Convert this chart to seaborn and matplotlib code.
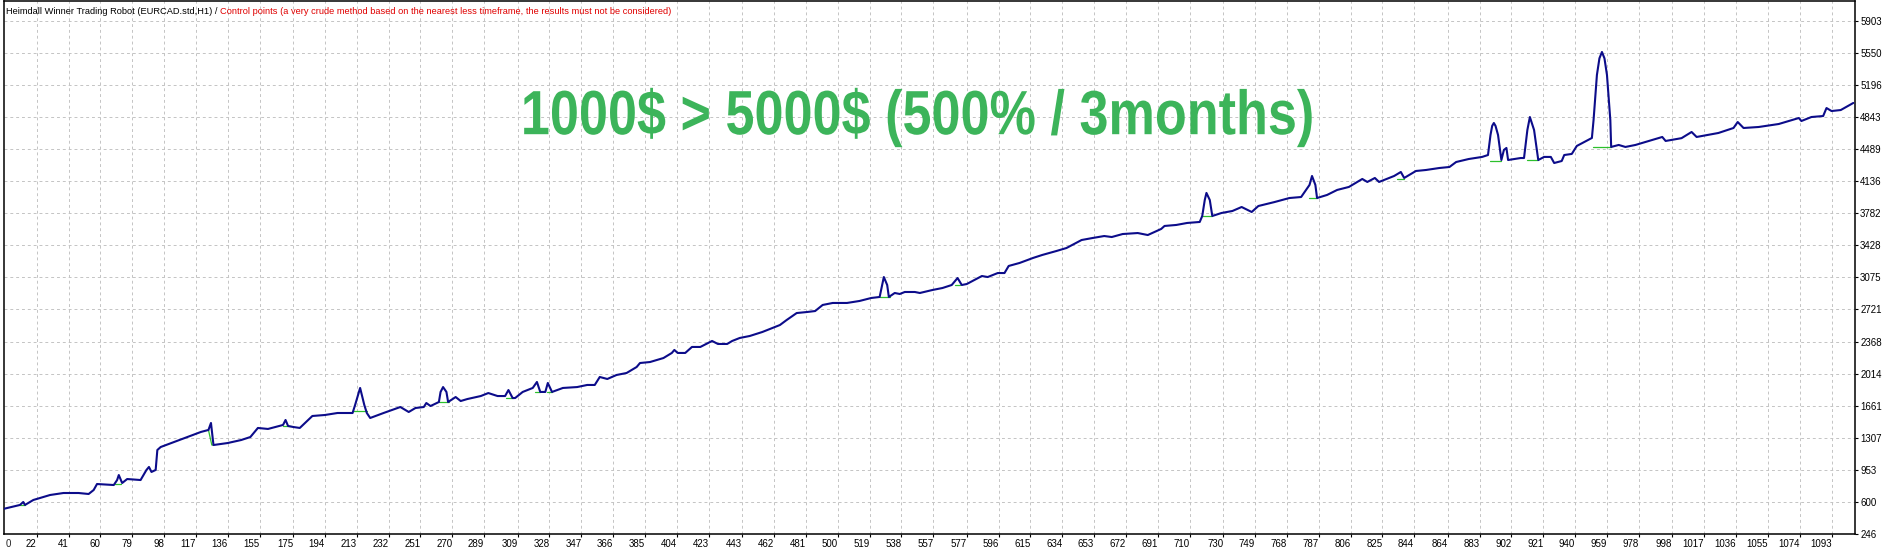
import numpy as np
import pandas as pd
import matplotlib
matplotlib.use("Agg")
import matplotlib.pyplot as plt
import matplotlib.patheffects as pe
from matplotlib.transforms import Affine2D
import seaborn as sns

# balance curve (trade number, account value)
trades = [2, 12, 14, 15, 20, 26, 30, 38, 47, 53, 56, 58, 68, 70, 71, 73, 76, 84, 87.5, 89,
          90.5, 93, 94, 96, 104, 112, 120, 124.5, 126, 127.5, 136, 144, 149.5, 154, 160, 169, 170.5, 172, 175, 179,
          186.5, 194, 201.5, 210.5, 212, 215, 217.5, 219, 221, 229, 239, 244, 248, 253, 254.5, 257, 262, 263, 264.5, 266.5,
          267.5, 272, 275, 279, 287, 291.5, 297, 301.5, 303.5, 306, 307.5, 312, 318, 320.5, 322.5, 325.5, 327, 329.5, 336, 344.5,
          350.5, 355, 358, 362.5, 368, 374, 380, 382, 388, 396, 401, 402.5, 404.5, 409, 413, 418, 425, 428.5,
          434, 437, 441.5, 447.5, 455, 459.5, 465.5, 469.5, 475.5, 481.5, 486.5, 491, 497, 505.5, 513, 520,
          525, 526.5, 527.5, 529.5, 530.5, 534, 537, 540, 546, 549, 556.5, 562.5, 568, 571.5, 574, 577, 586, 589.5, 595.5, 599.5,
          602, 608.5, 616.5, 622, 630.5, 636.5, 645.5, 652, 659, 663.5, 670, 679, 685, 693, 695, 702, 708.5, 716, 717.5, 719,
          720, 722, 723.5, 729, 735.5, 741, 747, 751, 760.5, 769.5, 776.5, 781.5, 783, 785, 786, 792, 798, 805, 813, 816,
          820.5, 823, 832, 836, 838, 845, 851, 859, 865, 869, 876.5, 884.5, 888, 889.5, 890.5, 891.5, 892.5, 894, 896, 897.5,
          899, 900, 907.5, 909.5, 911.5, 913, 915.5, 918, 921.5, 925.5, 927.5, 932, 933.5, 938, 941, 950, 951, 953, 954.5, 956,
          957.5, 959, 961, 961.5, 966, 970, 976, 986, 992, 994, 1003.5, 1009.5, 1012.5, 1025.5, 1034.5, 1037, 1040.5, 1049.5, 1061.5, 1073.5,
          1075, 1081, 1088, 1090, 1093, 1098.5, 1106]
balance = [522, 566, 599, 566, 621, 654, 676, 698, 698, 687, 731, 797, 786, 841, 896, 808, 852, 841, 952, 985,
           930, 952, 1172, 1205, 1260, 1315, 1371, 1393, 1470, 1227, 1249, 1282, 1315, 1415, 1404, 1448, 1503, 1437, 1426, 1415,
           1547, 1558, 1580, 1580, 1668, 1856, 1668, 1580, 1525, 1580, 1646, 1591, 1635, 1646, 1690, 1657, 1701, 1812, 1866, 1812,
           1701, 1756, 1712, 1734, 1767, 1800, 1767, 1767, 1833, 1745, 1745, 1812, 1856, 1922, 1812, 1812, 1911, 1812, 1856, 1866,
           1889, 1889, 1977, 1955, 1999, 2021, 2087, 2131, 2142, 2186, 2242, 2275, 2242, 2242, 2308, 2308, 2374, 2341,
           2341, 2374, 2407, 2429, 2473, 2506, 2550, 2605, 2682, 2693, 2704, 2771, 2793, 2793, 2815, 2848,
           2859, 2991, 3079, 2991, 2859, 2903, 2892, 2914, 2914, 2903, 2936, 2958, 2991, 3068, 2991, 3002, 3090, 3079, 3123, 3123,
           3201, 3234, 3289, 3322, 3366, 3399, 3487, 3509, 3531, 3520, 3553, 3564, 3542, 3609, 3642, 3653, 3675, 3686, 3752, 3928,
           4006, 3928, 3752, 3785, 3807, 3851, 3796, 3862, 3905, 3950, 3961, 4094, 4193, 4094, 3950, 3984, 4039, 4072, 4160, 4127,
           4171, 4127, 4193, 4237, 4171, 4248, 4259, 4281, 4292, 4347, 4380, 4403, 4424, 4645, 4745, 4777, 4745, 4645, 4369, 4480,
           4502, 4369, 4391, 4391, 4700, 4843, 4700, 4369, 4403, 4403, 4336, 4358, 4424, 4436, 4524, 4612, 4810, 5307, 5490, 5560,
           5490, 5307, 4810, 4513, 4535, 4513, 4535, 4590, 4623, 4579, 4610, 4678, 4623, 4667, 4722, 4788, 4722, 4733, 4766, 4832,
           4799, 4843, 4854, 4942, 4909, 4920, 4998]

# flat equity stretches under the spikes
eq_trades = [12, 15, 69, 72.5, 124.5, 126.5, 127.5, 169, 174, 211, 219, 262, 268, 302, 306, 319.5, 322.5,
             326.5, 329.5, 525, 531, 570, 573, 717.5, 723.5, 781, 786, 834, 838, 889, 896, 911, 918, 950.5, 961.5]
eq_values = [566, 566, 797, 797, 1393, 1227, 1227, 1437, 1437, 1600, 1600, 1701, 1701, 1745, 1745, 1808, 1808,
             1812, 1812, 2862, 2862, 2991, 2991, 3752, 3752, 3950, 3950, 4160, 4160, 4362, 4362, 4369, 4369, 4516, 4516]
eq_seg = [1, 1, 2, 2, 3, 3, 3, 4, 4, 5, 5, 6, 6, 7, 7, 8, 8,
          9, 9, 10, 10, 11, 11, 12, 12, 13, 13, 14, 14, 15, 15, 16, 16, 17, 17]

x_ticks = [22, 41, 60, 79, 98, 117, 136, 155, 175, 194, 213, 232, 251, 270, 289, 309, 328, 347, 366, 385,
           404, 423, 443, 462, 481, 500, 519, 538, 557, 577, 596, 615, 634, 653, 672, 691, 710, 730, 749, 768,
           787, 806, 825, 844, 864, 883, 902, 921, 940, 959, 978, 998, 1017, 1036, 1055, 1074, 1093]
y_ticks = [246, 600, 953, 1307, 1661, 2014, 2368, 2721, 3075, 3428, 3782, 4136, 4489, 4843, 5196, 5550, 5903]

title_black = "Heimdall Winner Trading Robot (EURCAD.std,H1) / "
title_red = "Control points (a very crude method based on the nearest less timeframe, the results must not be considered)"
banner = "1000$ > 5000$ (500% / 3months)"


class Squeeze(pe.AbstractPathEffect):
    # narrow the glyphs horizontally around x0 (pixels)
    def __init__(self, sx, x0):
        super().__init__()
        self.sx = sx
        self.x0 = x0

    def draw_path(self, renderer, gc, tpath, affine, rgbFace=None):
        aff = affine + Affine2D().translate(-self.x0, 0).scale(self.sx, 1).translate(self.x0, 0)
        renderer.draw_path(gc, tpath, aff, rgbFace)


sns.set_theme(style="white")
plt.rcParams['font.family'] = ['Liberation Sans', 'DejaVu Sans']

fig = plt.figure(figsize=(19, 5.51), dpi=100)
ax = fig.add_axes([4 / 1900, 17 / 551, 1851 / 1900, 533 / 551])

eq = pd.DataFrame({'trade': eq_trades, 'equity': eq_values, 'seg': eq_seg})
sns.lineplot(data=eq, x='trade', y='equity', units='seg', estimator=None, sort=False,
             color='#2cc02c', linewidth=0.9, ax=ax, zorder=2)
sns.lineplot(x=trades, y=balance, estimator=None, sort=False, color='#0c0c8a',
             linewidth=1.5, ax=ax, zorder=3)

ax.set_xlim(2.5, 1107)
ax.set_ylim(246, 6122)
ax.set_xlabel('')
ax.set_ylabel('')

ax.set_xticks(x_ticks)
ax.set_xticklabels([str(v) for v in x_ticks], ha='right')
ax.yaxis.tick_right()
ax.set_yticks(y_ticks)
ax.set_yticklabels([str(v) for v in y_ticks])
ax.tick_params(axis='both', direction='out', length=2.5, width=0.8, labelsize=7,
               pad=1.2, colors='black')
ax.tick_params(axis='x', bottom=True)
ax.tick_params(axis='y', right=True)
ax.annotate('0', xy=(0, 0), xycoords='axes fraction', xytext=(1, -3.7),
            textcoords='offset points', ha='left', va='top', fontsize=7)

ax.grid(True, color='#c4c4c4', linestyle=(0, (3, 3)), linewidth=0.7)
ax.set_axisbelow(True)
for s in ax.spines.values():
    s.set_visible(True)
    s.set_color('black')
    s.set_linewidth(1.1)

t1 = ax.annotate(title_black, xy=(0, 1), xycoords='axes fraction', xytext=(1.4, -7.6),
                 textcoords='offset points', ha='left', va='center', fontsize=6.65, color='black')
ax.annotate(title_red, xy=(1, 0.5), xycoords=t1, ha='left', va='center',
            fontsize=6.65, color='#e00000')

bx, by = 0.4938, 0.782
x0 = ax.transAxes.transform((bx, by))[0]
ax.text(bx, by, banner, transform=ax.transAxes, ha='center', va='center', fontsize=45,
        fontweight='bold', color='#3cb45a', parse_math=False,
        path_effects=[Squeeze(0.835, x0)])

fig.savefig('out.png', dpi=100)
